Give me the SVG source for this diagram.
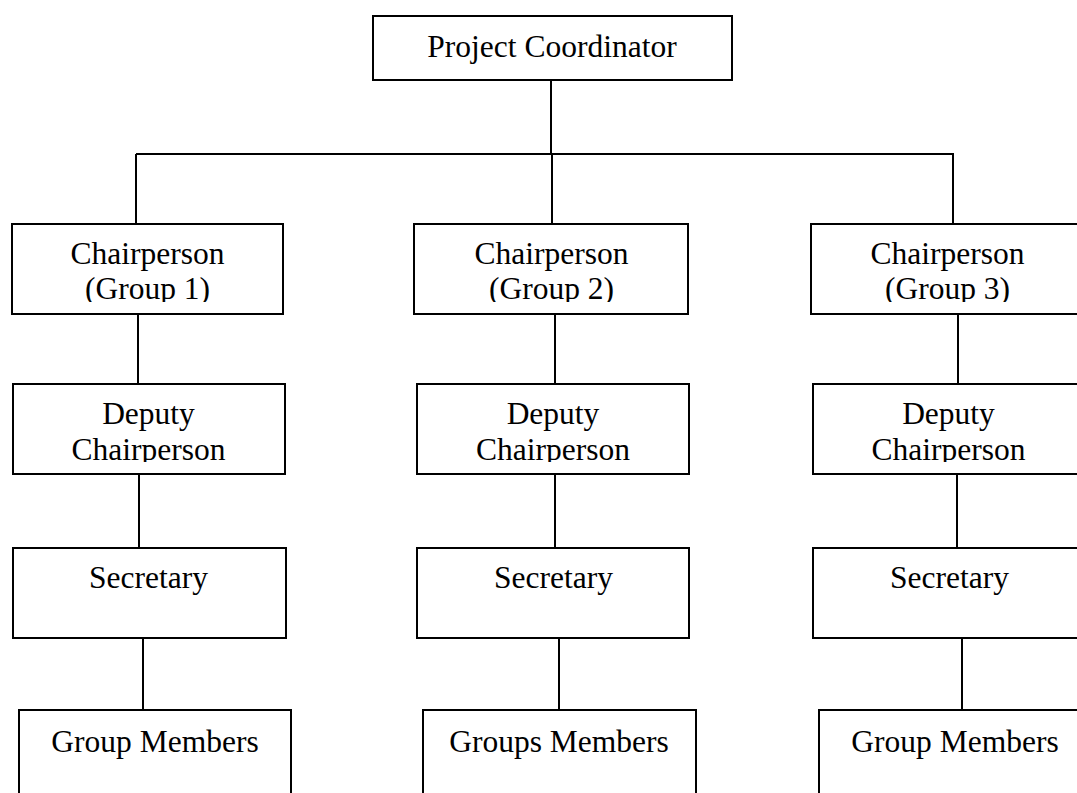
<svg xmlns="http://www.w3.org/2000/svg" width="1077" height="793" viewBox="0 0 1077 793">
  <style>
    .box { fill: #ffffff; stroke: #000000; stroke-width: 2; }
    .lbl { font-family: "Liberation Serif", "Times New Roman", serif; font-size: 31.5px; fill: #000000; text-anchor: middle; }
    .conn line { stroke: #000000; stroke-width: 2; }
  </style>
  <defs>
    <clipPath id="clipChair"><rect x="0" y="224" width="1077" height="78"/></clipPath>
    <clipPath id="clipDeputy"><rect x="0" y="384" width="1077" height="78"/></clipPath>
  </defs>
  <rect width="1077" height="793" fill="#ffffff"/>

  <g id="connectors" class="conn">
    <line x1="551" y1="80" x2="551" y2="154"/>
    <line x1="136" y1="154" x2="954" y2="154"/>
    <line x1="136" y1="154" x2="136" y2="224"/>
    <line x1="552" y1="154" x2="552" y2="224"/>
    <line x1="953" y1="154" x2="953" y2="224"/>
    <line x1="138" y1="314" x2="138" y2="384"/>
    <line x1="555" y1="314" x2="555" y2="384"/>
    <line x1="958" y1="314" x2="958" y2="384"/>
    <line x1="139" y1="474" x2="139" y2="548"/>
    <line x1="555" y1="474" x2="555" y2="548"/>
    <line x1="957" y1="474" x2="957" y2="548"/>
    <line x1="143" y1="638" x2="143" y2="710"/>
    <line x1="559" y1="638" x2="559" y2="710"/>
    <line x1="962" y1="638" x2="962" y2="710"/>
  </g>

  <g id="project-coordinator">
    <rect class="box" x="373" y="16" width="359" height="64"/>
    <text class="lbl" x="552" y="57">Project Coordinator</text>
  </g>

  <g id="chair-1">
    <rect class="box" x="12" y="224" width="271" height="90"/>
    <text class="lbl" x="147.5" y="264">Chairperson</text>
    <text class="lbl" x="147.5" y="299" clip-path="url(#clipChair)">(Group 1)</text>
  </g>
  <g id="chair-2">
    <rect class="box" x="414" y="224" width="274" height="90"/>
    <text class="lbl" x="551.5" y="264">Chairperson</text>
    <text class="lbl" x="551.5" y="299" clip-path="url(#clipChair)">(Group 2)</text>
  </g>
  <g id="chair-3">
    <rect class="box" x="811" y="224" width="272" height="90"/>
    <text class="lbl" x="947.5" y="264">Chairperson</text>
    <text class="lbl" x="947.5" y="299" clip-path="url(#clipChair)">(Group 3)</text>
  </g>

  <g id="deputy-1">
    <rect class="box" x="13" y="384" width="272" height="90"/>
    <text class="lbl" x="148.5" y="424">Deputy</text>
    <text class="lbl" x="148.5" y="460" clip-path="url(#clipDeputy)">Chairperson</text>
  </g>
  <g id="deputy-2">
    <rect class="box" x="417" y="384" width="272" height="90"/>
    <text class="lbl" x="553" y="424">Deputy</text>
    <text class="lbl" x="553" y="460" clip-path="url(#clipDeputy)">Chairperson</text>
  </g>
  <g id="deputy-3">
    <rect class="box" x="813" y="384" width="272" height="90"/>
    <text class="lbl" x="948.5" y="424">Deputy</text>
    <text class="lbl" x="948.5" y="460" clip-path="url(#clipDeputy)">Chairperson</text>
  </g>

  <g id="secretary-1">
    <rect class="box" x="13" y="548" width="273" height="90"/>
    <text class="lbl" x="148.5" y="588">Secretary</text>
  </g>
  <g id="secretary-2">
    <rect class="box" x="417" y="548" width="272" height="90"/>
    <text class="lbl" x="553.5" y="588">Secretary</text>
  </g>
  <g id="secretary-3">
    <rect class="box" x="813" y="548" width="273" height="90"/>
    <text class="lbl" x="949.5" y="588">Secretary</text>
  </g>

  <g id="members-1">
    <rect class="box" x="19" y="710" width="272" height="120"/>
    <text class="lbl" x="155" y="752">Group Members</text>
  </g>
  <g id="members-2">
    <rect class="box" x="423" y="710" width="273" height="120"/>
    <text class="lbl" x="559" y="752">Groups Members</text>
  </g>
  <g id="members-3">
    <rect class="box" x="819" y="710" width="272" height="120"/>
    <text class="lbl" x="955" y="752">Group Members</text>
  </g>
</svg>
